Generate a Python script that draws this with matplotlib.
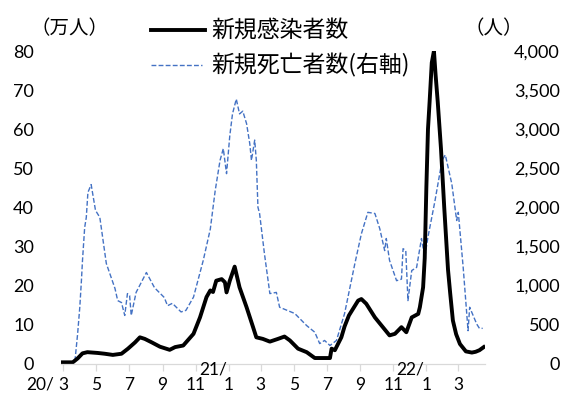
import matplotlib
matplotlib.use('Agg')
import matplotlib.pyplot as plt
import pandas as pd
from matplotlib.lines import Line2D

plt.rcParams['font.family'] = ['Lato', 'Noto Sans CJK JP', 'DejaVu Sans']

# 新規感染者数（万人）
case_dates = ['2020-02-27', '2020-03-19', '2020-03-28', '2020-04-06', '2020-04-15', '2020-05-04',
              '2020-05-17', '2020-06-01', '2020-06-17', '2020-06-29', '2020-07-12', '2020-07-21',
              '2020-07-30', '2020-08-12', '2020-08-27', '2020-09-14', '2020-09-24', '2020-10-09',
              '2020-10-28', '2020-11-09', '2020-11-21', '2020-11-28', '2020-12-03', '2020-12-09',
              '2020-12-19', '2020-12-25', '2020-12-28', '2021-01-03', '2021-01-12', '2021-01-21',
              '2021-02-03', '2021-02-15', '2021-02-21', '2021-03-05', '2021-03-18', '2021-04-02',
              '2021-04-14', '2021-04-24', '2021-05-09', '2021-05-25', '2021-06-09', '2021-07-07',
              '2021-07-10', '2021-07-16', '2021-07-28', '2021-08-03', '2021-08-11', '2021-08-28',
              '2021-09-03', '2021-09-12', '2021-09-28', '2021-10-25', '2021-11-04', '2021-11-16',
              '2021-11-25', '2021-12-05', '2021-12-17', '2021-12-20', '2021-12-26', '2021-12-29',
              '2022-01-01', '2022-01-04', '2022-01-07', '2022-01-11', '2022-01-15', '2022-01-18',
              '2022-01-22', '2022-01-28', '2022-02-03', '2022-02-10', '2022-02-14', '2022-02-19',
              '2022-02-25', '2022-03-04', '2022-03-15', '2022-03-26', '2022-04-02', '2022-04-09',
              '2022-04-17']
case_values = [0.3, 0.3, 1.3, 2.6, 2.9, 2.7,
               2.5, 2.2, 2.5, 3.8, 5.4, 6.7,
               6.3, 5.4, 4.3, 3.5, 4.2, 4.6,
               7.6, 11.8, 17.0, 18.7, 18.3, 21.2,
               21.6, 20.8, 18.2, 21.2, 24.8, 19.5,
               14.4, 9.3, 6.7, 6.3, 5.6, 6.3,
               6.9, 5.9, 3.8, 2.9, 1.4, 1.4,
               3.8, 3.4, 6.7, 9.5, 12.3, 16.1,
               16.5, 15.3, 11.8, 7.2, 7.6, 9.3,
               8.0, 11.8, 12.7, 14.4, 19.5, 27.0,
               45.0, 60.0, 67.0, 77.0, 80.0, 74.0,
               67.0, 55.0, 40.0, 24.0, 18.0, 11.0,
               7.5, 5.0, 3.1, 2.8, 3.0, 3.4,
               4.2]

# 新規死亡者数（人、右軸）
death_dates = ['2020-02-27', '2020-03-19', '2020-03-23', '2020-03-28', '2020-04-01', '2020-04-04',
               '2020-04-06', '2020-04-10', '2020-04-13', '2020-04-16', '2020-04-22', '2020-04-30',
               '2020-05-08', '2020-05-20', '2020-06-05', '2020-06-10', '2020-06-17', '2020-06-23',
               '2020-06-28', '2020-07-02', '2020-07-05', '2020-07-14', '2020-08-02', '2020-08-17',
               '2020-09-04', '2020-09-10', '2020-09-19', '2020-10-05', '2020-10-14', '2020-10-28',
               '2020-11-15', '2020-11-28', '2020-12-07', '2020-12-16', '2020-12-22', '2020-12-28',
               '2021-01-03', '2021-01-08', '2021-01-15', '2021-01-21', '2021-01-27', '2021-02-03',
               '2021-02-09', '2021-02-12', '2021-02-18', '2021-02-21', '2021-02-24', '2021-02-27',
               '2021-03-08', '2021-03-18', '2021-03-30', '2021-04-05', '2021-05-03', '2021-05-25',
               '2021-06-09', '2021-06-18', '2021-06-27', '2021-07-07', '2021-07-19', '2021-08-03',
               '2021-08-22', '2021-09-03', '2021-09-15', '2021-09-28', '2021-10-07', '2021-10-16',
               '2021-10-19', '2021-10-25', '2021-11-07', '2021-11-16', '2021-11-19', '2021-11-24',
               '2021-11-28', '2021-12-05', '2021-12-14', '2021-12-23', '2021-12-29', '2022-01-04',
               '2022-01-17', '2022-01-30', '2022-02-05', '2022-02-17', '2022-02-26', '2022-03-01',
               '2022-03-10', '2022-03-19', '2022-03-22', '2022-04-04', '2022-04-09', '2022-04-15']
death_values = [0, 10, 30, 380, 720, 1060,
                1320, 1740, 1870, 2190, 2290, 1960,
                1870, 1280, 960, 805, 780, 615,
                895, 870, 615, 910, 1165, 970,
                845, 740, 770, 660, 680, 850,
                1320, 1720, 2210, 2600, 2750, 2430,
                2915, 3195, 3385, 3195, 3230, 3070,
                2810, 2600, 2860, 2600, 2000, 1920,
                1405, 895, 910, 720, 640, 485,
                400, 255, 295, 230, 295, 640,
                1280, 1660, 1935, 1920, 1725, 1445,
                1600, 1320, 1060, 1080, 1470, 1445,
                805, 1190, 1230, 1600, 1360, 1620,
                2085, 2600, 2670, 2300, 1830, 1935,
                1230, 420, 720, 505, 450, 450]

tick_dates = pd.date_range('2020-03-01', '2022-03-01', freq='2MS')
tick_labels = ['3', '5', '7', '9', '11', '1', '3', '5', '7', '9', '11', '1', '3']
year_marks = {'2020-03-01': '20/', '2021-01-01': '21/', '2022-01-01': '22/'}

W, H = 565, 394
fig = plt.figure(figsize=(W / 100, H / 100), dpi=100)
ax = fig.add_axes([61 / W, (H - 363.5) / H, 424 / W, 312.5 / H])
ax2 = ax.twinx()

ax2.plot(pd.to_datetime(death_dates), death_values, color='#4472C4', lw=1.0,
         linestyle=(0, (3.5, 1.6)))
ax.plot(pd.to_datetime(case_dates), case_values, color='black', lw=2.8,
        solid_joinstyle='round')
ax.set_zorder(ax2.get_zorder() + 1)
ax.patch.set_visible(False)

start = pd.Timestamp('2020-03-01')
ax.set_xlim(start - pd.Timedelta(days=3.7), start + pd.Timedelta(days=779.3))
ax.set_ylim(0, 80)
ax2.set_ylim(0, 4000)

for a in (ax, ax2):
    for s in a.spines.values():
        s.set_visible(False)
ax.spines['bottom'].set_visible(True)
ax.spines['bottom'].set_color('#d9d9d9')
ax.spines['bottom'].set_linewidth(0.9)

ax.set_xticks(tick_dates)
ax.set_xticklabels(tick_labels, fontsize=12.5)
ax.tick_params(axis='x', length=5, width=0.9, color='#d9d9d9', pad=4.5)

ax.set_yticks(range(0, 81, 10))
ax.set_yticklabels([str(v) for v in range(0, 81, 10)], fontsize=13)
ax.tick_params(axis='y', length=0, pad=19.5)

ax2.set_yticks(range(0, 4001, 500))
ax2.set_yticklabels([f'{v:,}' for v in range(0, 4001, 500)], fontsize=13)
ax2.tick_params(axis='y', length=0, pad=54)
for t in ax2.get_yticklabels():
    t.set_horizontalalignment('right')

for d, s in year_marks.items():
    if d == '2020-03-01':
        off = (-9, -21.5)
    else:
        off = (-2, -6)
    ax.annotate(s, xy=(pd.Timestamp(d), 0), xycoords=('data', 'axes fraction'),
                xytext=off, textcoords='offset pixels', ha='right', va='center',
                fontsize=12.5, annotation_clip=False)

# 単位
fig.text(69 / W, 1 - 28 / H, '（万人）', fontsize=14, ha='center', va='center')
fig.text(494 / W, 1 - 28 / H, '（人）', fontsize=14, ha='center', va='center')

# 凡例
fig.add_artist(Line2D([150.7 / W, 205 / W], [1 - 30 / H, 1 - 30 / H], color='black', lw=2.8))
fig.add_artist(Line2D([150.7 / W, 201.7 / W], [1 - 65 / H, 1 - 65 / H], color='#4472C4', lw=1.0,
                      linestyle=(0, (3.5, 1.6))))
fig.text(211.7 / W, 1 - 30 / H, '新規感染者数', fontsize=16.5, ha='left', va='center',
         family=['Noto Sans CJK JP'])
fig.text(211.7 / W, 1 - 65 / H, '新規死亡者数(右軸)', fontsize=16.5, ha='left', va='center',
         family=['Noto Sans CJK JP'])

fig.savefig('out.png', dpi=100)
